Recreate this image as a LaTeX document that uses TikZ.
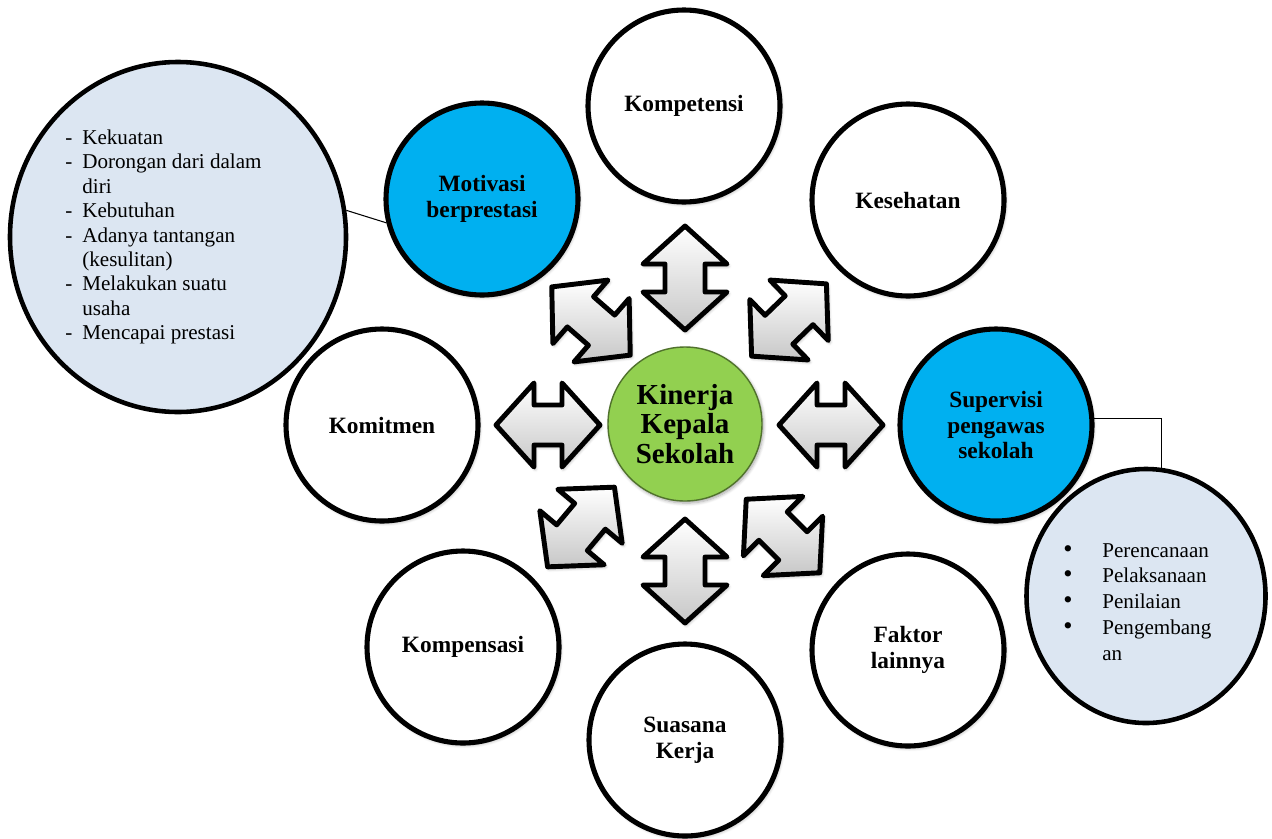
\documentclass[tikz,border=0pt]{standalone}
\usepackage{fontspec}
\setmainfont{Liberation Serif}
\usetikzlibrary{shapes.geometric,shadows.blur}

\definecolor{hijau}{HTML}{92D050}
\definecolor{biru}{HTML}{00B0F0}
\definecolor{pucat}{HTML}{DCE6F2}

\newcommand{\titik}{{\fontsize{15}{14.7}\selectfont\textbullet}}

\tikzset{
  bayang/.style={blur shadow={shadow xshift=0.8pt,shadow yshift=-1.2pt,
    shadow blur steps=6,shadow opacity=35}},
  faktor/.style={circle,draw,line width=2.9pt,minimum size=38.4mm,fill=white,
    align=center,font=\bfseries\fontsize{13.3}{14.5}\selectfont,bayang},
  inti/.style={circle,draw=hijau!55!black,line width=0.8pt,minimum size=30.8mm,
    fill=hijau,align=center,font=\bfseries\fontsize{16.5}{17}\selectfont,bayang},
  daftar/.style={ellipse,draw,line width=2.6pt,fill=pucat},
  isi/.style={inner sep=0pt,align=left},
  panah/.style={draw,line width=2.8pt,line join=round,top color=white,
    bottom color=black!22,bayang},
  dblarrow/.pic={
    \path[panah] (0,52) -- (42,14) -- (20,14) -- (20,-14) -- (42,-14) -- (0,-52)
      -- (-42,-14) -- (-20,-14) -- (-20,14) -- (-42,14) -- cycle;
  }
}

\begin{document}
\begin{tikzpicture}[x=0.2mm,y=-0.2mm]
\useasboundingbox (0,0) rectangle (1272,838);

% double arrows round the centre
\pic (pn) at (685,278) {dblarrow};
\pic (ps) at (685,571) {dblarrow};
\pic[rotate=90] (pw) at (548,425) {dblarrow};
\pic[rotate=90] (pe) at (831,425) {dblarrow};
\pic[rotate=49] (pnw) at (591,321) {dblarrow};
\pic[rotate=-46] (pne) at (789,320) {dblarrow};
\pic[rotate=-40] (psw) at (581,527) {dblarrow};
\pic[rotate=45] (pse) at (783,536) {dblarrow};

\node[inti] (kinerja) at (685,424) {Kinerja\\Kepala\\Sekolah};

\node[faktor] (kompetensi) at (684,106) {Kompetensi};
\node[faktor] (kesehatan) at (908,200) {Kesehatan};
\node[faktor,fill=biru] (supervisi) at (996,425) {Supervisi\\pengawas\\sekolah};
\node[faktor] (faktorlain) at (908,650) {Faktor\\lainnya};
\node[faktor] (suasana) at (685,740) {Suasana\\Kerja};
\node[faktor] (kompensasi) at (463,647) {Kompensasi};
\node[faktor] (komitmen) at (382,425) {Komitmen};
\node[faktor,fill=biru] (motivasi) at (482,199) {Motivasi\\berprestasi};

% detail ellipses
\node[daftar,minimum width=67.2mm,minimum height=70mm] (motlist) at (178,237) {};
\node[isi,anchor=west,font=\fontsize{12}{13.9}\selectfont] (motitems) at (65,237) {%
  \makebox[3.4mm][l]{-}Kekuatan\\
  \makebox[3.4mm][l]{-}Dorongan dari dalam\\
  \hspace*{3.4mm}diri\\
  \makebox[3.4mm][l]{-}Kebutuhan\\
  \makebox[3.4mm][l]{-}Adanya tantangan\\
  \hspace*{3.4mm}(kesulitan)\\
  \makebox[3.4mm][l]{-}Melakukan suatu\\
  \hspace*{3.4mm}usaha\\
  \makebox[3.4mm][l]{-}Mencapai prestasi};

\node[daftar,minimum width=47.8mm,minimum height=50.8mm] (suplist) at (1146,596) {};
\node[isi,anchor=west,font=\fontsize{12}{14.7}\selectfont] (supitems) at (1063,602) {%
  \makebox[7.8mm][l]{\titik}Perencanaan\\
  \makebox[7.8mm][l]{\titik}Pelaksanaan\\
  \makebox[7.8mm][l]{\titik}Penilaian\\
  \makebox[7.8mm][l]{\titik}Pengembang\\
  \hspace*{7.8mm}an};

\draw[line width=0.6pt] (motlist.9) -- (motivasi.194);
\draw[line width=0.6pt] (supervisi.4) -| (suplist.83);
\end{tikzpicture}
\end{document}
